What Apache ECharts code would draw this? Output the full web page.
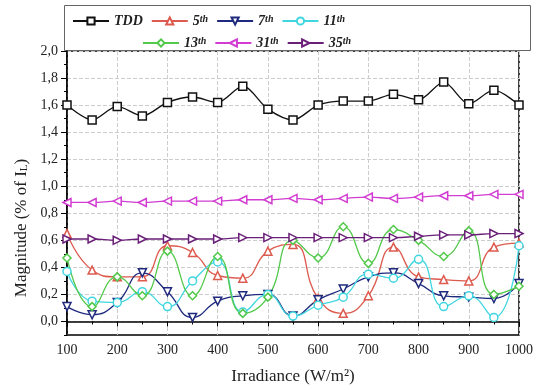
<!DOCTYPE html>
<html>
<head>
<meta charset="utf-8">
<script src="https://cdn.jsdelivr.net/npm/echarts@6/dist/echarts.min.js"></script>
<style>
  html, body { margin: 0; padding: 0; background: #fff; }
  #chart { width: 536px; height: 390px; }
</style>
</head>
<body>
<div id="chart"></div>
<script>
// irradiance steps (W/m²)
const irradiance = [100, 150, 200, 250, 300, 350, 400, 450, 500, 550, 600, 650, 700, 750, 800, 850, 900, 950, 1000];

// magnitudes (% of I_L)
const tdd = [1.60, 1.49, 1.59, 1.52, 1.62, 1.66, 1.62, 1.74, 1.57, 1.49, 1.60, 1.63, 1.63, 1.68, 1.64, 1.77, 1.61, 1.71, 1.60];
const h5  = [0.65, 0.38, 0.33, 0.33, 0.56, 0.51, 0.34, 0.32, 0.52, 0.57, 0.17, 0.06, 0.19, 0.55, 0.33, 0.31, 0.30, 0.55, 0.58];
const h7  = [0.11, 0.05, 0.14, 0.36, 0.22, 0.03, 0.15, 0.19, 0.20, 0.04, 0.16, 0.24, 0.33, 0.36, 0.28, 0.19, 0.18, 0.17, 0.28];
const h11 = [0.37, 0.15, 0.14, 0.22, 0.11, 0.30, 0.44, 0.07, 0.20, 0.04, 0.12, 0.18, 0.35, 0.32, 0.46, 0.11, 0.19, 0.03, 0.56];
const h13 = [0.47, 0.11, 0.33, 0.19, 0.52, 0.19, 0.48, 0.06, 0.18, 0.60, 0.47, 0.70, 0.43, 0.68, 0.60, 0.48, 0.67, 0.20, 0.26];
const h31 = [0.88, 0.88, 0.89, 0.88, 0.89, 0.89, 0.89, 0.90, 0.90, 0.91, 0.90, 0.91, 0.92, 0.91, 0.92, 0.93, 0.93, 0.94, 0.94];
const h35 = [0.61, 0.61, 0.60, 0.61, 0.61, 0.61, 0.61, 0.62, 0.62, 0.62, 0.62, 0.62, 0.62, 0.62, 0.63, 0.64, 0.64, 0.65, 0.65];

// y tick labels
const yTicks = [0, 0.2, 0.4, 0.6, 0.8, 1.0, 1.2, 1.4, 1.6, 1.8, 2.0];

const serif = "'Liberation Serif', 'DejaVu Serif', serif";

const chart = echarts.init(document.getElementById('chart'));

function makeSeries(name, values, color, symbol, rotate, smooth) {
  return {
    name: name,
    type: 'line',
    data: irradiance.map((x, i) => [x, values[i]]),
    smooth: smooth,
    symbol: symbol,
    symbolSize: 8,
    symbolRotate: rotate,
    lineStyle: { color: color, width: 1.3 },
    itemStyle: { color: '#fff', borderColor: color, borderWidth: 1.5 },
    emphasis: { disabled: true },
    z: 3,
  };
}

const legendText = {
  fontFamily: serif,
  fontStyle: 'italic',
  fontWeight: 'bold',
  fontSize: 14,
  color: '#222',
  width: 75,
  rich: {
    n: { fontFamily: serif, fontStyle: 'italic', fontWeight: 'bold', fontSize: 14, color: '#222' },
    s: { fontFamily: serif, fontStyle: 'italic', fontWeight: 'bold', fontSize: 10, color: '#222', verticalAlign: 'top' },
  },
};

// "5th" -> 5 + superscript th
const legendFormatter = (name) => {
  const m = name.match(/^(\d+)(th)$/);
  return m ? '{n|' + m[1] + '}{s|' + m[2] + '}' : '{n|' + name + '}';
};

const option = {
  animation: false,
  backgroundColor: '#fff',
  graphic: [{
    type: 'rect',
    left: 62, top: 3,
    shape: { width: 466, height: 45 },
    style: { fill: 'none', stroke: '#666', lineWidth: 1 },
  }],
  legend: [
    {
      data: ['TDD', '5th', '7th', '11th'],
      left: 67, top: 9,
      itemWidth: 36, itemHeight: 9, itemGap: 8,
      formatter: legendFormatter,
      textStyle: legendText,
    },
    {
      data: ['13th', '31th', '35th'],
      left: 137, top: 31,
      itemWidth: 36, itemHeight: 9, itemGap: 8,
      formatter: legendFormatter,
      textStyle: legendText,
    },
  ],
  grid: {
    left: 67, right: 15, top: 51, bottom: 52,
    show: true, borderColor: '#000', borderWidth: 1.5,
  },
  xAxis: {
    type: 'value',
    min: 100, max: 1000, interval: 100,
    name: 'Irradiance (W/m²)',
    nameLocation: 'middle',
    nameGap: 33,
    nameTextStyle: { fontFamily: serif, fontSize: 17, color: '#222' },
    axisLine: { lineStyle: { color: '#000', width: 1.5 } },
    axisTick: { length: 5, lineStyle: { color: '#000' } },
    minorTick: { show: true, splitNumber: 2, length: 3, lineStyle: { color: '#000' } },
    axisLabel: { fontFamily: serif, fontSize: 14, color: '#222', margin: 8, formatter: (v) => String(v) },
    splitLine: { show: true, lineStyle: { type: 'dashed', color: '#ccc' } },
  },
  yAxis: [
    {
      // data axis with minor ticks every 0.1
      type: 'value',
      min: -0.1, max: 2.0, interval: 0.1,
      axisLine: { show: true, lineStyle: { color: '#000', width: 1.5 } },
      axisTick: { length: 3, lineStyle: { color: '#000' } },
      axisLabel: { show: false },
      splitLine: { show: false },
    },
    {
      // labels, major ticks and grid every 0.2
      type: 'value',
      position: 'left',
      min: -0.1, max: 2.0,
      name: '{a|Magnitude (% of I}{b|L}{a|)}',
      nameLocation: 'middle',
      nameGap: 36,
      nameTextStyle: {
        padding: [0, 70, 0, 0],
        rich: {
          a: { fontFamily: serif, fontSize: 17, color: '#222' },
          b: { fontFamily: serif, fontSize: 11, color: '#222', verticalAlign: 'bottom' },
        },
      },
      axisLine: { show: false },
      axisTick: { length: 6, customValues: yTicks, lineStyle: { color: '#000' } },
      axisLabel: {
        customValues: yTicks,
        fontFamily: serif, fontSize: 14, color: '#222', margin: 9,
        formatter: (v) => v.toFixed(1).replace('.', ','),
      },
      splitLine: { show: true, lineStyle: { type: 'dashed', color: '#ccc' } },
    },
  ],
  series: [
    makeSeries('TDD', tdd, '#111', 'rect', 0, 0.3),
    makeSeries('5th', h5, '#dd5a4e', 'triangle', 0, 0.5),
    makeSeries('7th', h7, '#1f2a7e', 'triangle', 180, 0.5),
    makeSeries('11th', h11, '#3fd6e0', 'circle', 0, 0.5),
    makeSeries('13th', h13, '#52c94a', 'diamond', 0, 0.5),
    makeSeries('31th', h31, '#d23cd2', 'triangle', 90, 0.5),
    makeSeries('35th', h35, '#6a1f78', 'triangle', -90, 0.5),
  ],
};

chart.setOption(option);
</script>
</body>
</html>
